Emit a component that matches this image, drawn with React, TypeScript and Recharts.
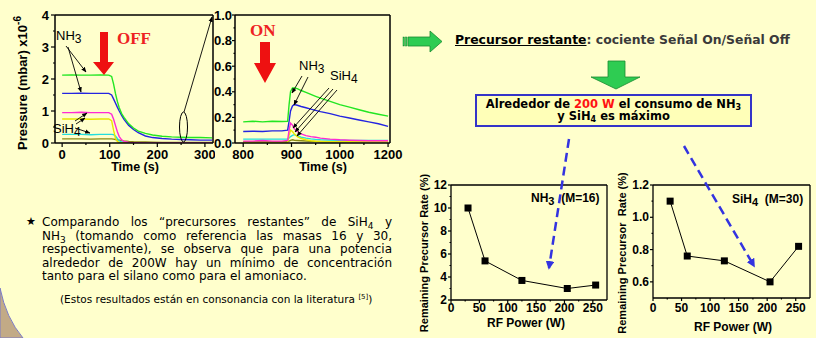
import React from "react";
import { LineChart, Line, XAxis, YAxis, ReferenceLine } from "recharts";

// plasma OFF transient, pressure x1e-6 mbar
const offTime = [0, 20, 40, 60, 80, 98, 104, 108, 112, 116, 120, 125, 130, 140, 150, 160, 175, 190, 210, 230, 250, 270, 290, 315];
const offGreen = [2.12, 2.13, 2.12, 2.12, 2.13, 2.12, 2.08, 1.85, 1.55, 1.3, 1.1, 0.92, 0.8, 0.6, 0.47, 0.37, 0.3, 0.25, 0.21, 0.19, 0.18, 0.17, 0.17, 0.16];
const offBlue = [1.55, 1.55, 1.56, 1.55, 1.55, 1.55, 1.5, 1.38, 1.25, 1.12, 1.0, 0.86, 0.74, 0.55, 0.42, 0.32, 0.22, 0.17, 0.14, 0.12, 0.11, 0.1, 0.09, 0.09];
const offMagenta = [0.95, 0.95, 0.96, 0.95, 0.95, 0.95, 0.9, 0.75, 0.55, 0.35, 0.2, 0.1, 0.05, 0.02, 0.01, 0.01, 0.005, 0.005, 0.005, 0.005, 0.005, 0.005, 0.005, 0.005];
const offYellow = [0.75, 0.75, 0.75, 0.74, 0.75, 0.75, 0.7, 0.4, 0.15, 0.05, 0.02, 0.01, 0.01, 0.005, 0.005, 0.005, 0.005, 0.005, 0.005, 0.005, 0.005, 0.005, 0.005, 0.005];
const offCyan = [0.27, 0.27, 0.27, 0.26, 0.27, 0.27, 0.27, 0.26, 0.22, 0.14, 0.07, 0.03, 0.015, 0.01, 0.005, 0.005, 0.005, 0.005, 0.005, 0.005, 0.005, 0.005, 0.005, 0.005];
const offOlive = [0.13, 0.13, 0.13, 0.12, 0.13, 0.13, 0.13, 0.12, 0.11, 0.1, 0.09, 0.075, 0.065, 0.05, 0.04, 0.035, 0.03, 0.025, 0.02, 0.02, 0.02, 0.015, 0.015, 0.015];

// plasma ON transient
const onTime = [800, 820, 840, 860, 880, 892, 895, 898, 902, 906, 912, 920, 930, 940, 950, 960, 980, 1000, 1020, 1040, 1060, 1080, 1100];
const onGreen = [0.165, 0.17, 0.165, 0.17, 0.168, 0.17, 0.3, 0.4, 0.43, 0.43, 0.425, 0.41, 0.395, 0.38, 0.365, 0.35, 0.325, 0.3, 0.28, 0.26, 0.24, 0.225, 0.21];
const onBlue = [0.09, 0.092, 0.09, 0.095, 0.095, 0.1, 0.17, 0.25, 0.29, 0.3, 0.295, 0.285, 0.275, 0.265, 0.255, 0.245, 0.23, 0.21, 0.195, 0.18, 0.165, 0.15, 0.13];
const onMagenta = [0.015, 0.015, 0.02, 0.015, 0.015, 0.02, 0.1, 0.155, 0.14, 0.11, 0.09, 0.072, 0.058, 0.05, 0.045, 0.038, 0.03, 0.025, 0.022, 0.02, 0.018, 0.018, 0.018];
const onYellow = [0.005, 0.005, 0.005, 0.005, 0.005, 0.005, 0.06, 0.1, 0.09, 0.07, 0.05, 0.035, 0.025, 0.018, 0.014, 0.012, 0.01, 0.01, 0.01, 0.01, 0.01, 0.01, 0.01];
const onCyan = [0.03, 0.03, 0.03, 0.03, 0.03, 0.03, 0.04, 0.05, 0.06, 0.065, 0.055, 0.045, 0.038, 0.032, 0.028, 0.026, 0.024, 0.022, 0.02, 0.02, 0.02, 0.02, 0.02];
const onOlive = [0.01, 0.01, 0.01, 0.01, 0.01, 0.01, 0.015, 0.02, 0.025, 0.022, 0.02, 0.018, 0.016, 0.014, 0.013, 0.012, 0.012, 0.012, 0.012, 0.012, 0.012, 0.012, 0.012];

// remaining precursor vs RF power
const powerW = [30, 60, 125, 205, 255];
const nh3Rate = [10, 5.4, 3.7, 3.0, 3.3];
const sih4Rate = [1.1, 0.76, 0.73, 0.6, 0.82];

// ticks
const offXMajor = [0, 100, 200, 300];
const offXMinor = [50, 150, 250];
const offYMajor = [0, 1, 2, 3, 4];
const offYMinor = [0.5, 1.5, 2.5, 3.5];
const onXMajor = [800, 900, 1000, 1100];
const onXLabels = ["800", "900", "1000", "1200"];
const onXMinor = [850, 950, 1050];
const onYMajor = [0, 0.2, 0.4, 0.6, 0.8, 1.0];
const onYMinor = [0.1, 0.3, 0.5, 0.7, 0.9];
const powerXMajor = [0, 50, 100, 150, 200, 250];
const powerXMinor = [25, 75, 125, 175, 225];
const nh3YMajor = [2, 4, 6, 8, 10, 12];
const nh3YMinor = [3, 5, 7, 9, 11];
const sih4YMajor = [0.6, 0.8, 1.0, 1.2];
const sih4YMinor = [0.7, 0.9, 1.1];

const seriesKeys = ["olive", "cyan", "yellow", "magenta", "blue", "green"];
const seriesColors: Record<string, string> = {
  green: "#22e622",
  blue: "#2424e0",
  magenta: "#ff2ad4",
  yellow: "#e8e800",
  cyan: "#22dede",
  olive: "#8a8a12",
};

const offRows = offTime.map((t, i) => ({
  t, green: offGreen[i], blue: offBlue[i], magenta: offMagenta[i],
  yellow: offYellow[i], cyan: offCyan[i], olive: offOlive[i],
}));
const onRows = onTime.map((t, i) => ({
  t, green: onGreen[i], blue: onBlue[i], magenta: onMagenta[i],
  yellow: onYellow[i], cyan: onCyan[i], olive: onOlive[i],
}));
const nh3Rows = powerW.map((p, i) => ({ p, v: nh3Rate[i] }));
const sih4Rows = powerW.map((p, i) => ({ p, v: sih4Rate[i] }));

const BG = "#ffffcc";
const arial = "'Liberation Sans', Arial, sans-serif";
const comic = "'Comic Sans MS', 'DejaVu Sans', sans-serif";

type TickOpts = {
  side: "left" | "bottom";
  majors: number[];
  size: number;
  margin: number;
  fontSize: number;
  label?: (v: number) => string;
};

function makeTick({ side, majors, size, margin, fontSize, label = (v) => String(v) }: TickOpts) {
  return (props: any) => {
    const { x, y, payload } = props;
    const v = Number(payload.value);
    const major = majors.some((m) => Math.abs(m - v) < 1e-6);
    const len = major ? size : size / 2;
    if (side === "left") {
      const ax = x + size + margin;
      return (
        <g>
          <line x1={ax} x2={ax - len} y1={y} y2={y} stroke="#000" strokeWidth={1.2} />
          {major && (
            <text x={x} y={y} dy="0.35em" textAnchor="end" fontSize={fontSize} fontWeight="bold" fontFamily={arial} fill="#000">
              {label(v)}
            </text>
          )}
        </g>
      );
    }
    const ay = y - size - margin;
    return (
      <g>
        <line x1={x} x2={x} y1={ay} y2={ay + len} stroke="#000" strokeWidth={1.2} />
        {major && (
          <text x={x} y={y} dy="0.71em" textAnchor="middle" fontSize={fontSize} fontWeight="bold" fontFamily={arial} fill="#000">
            {label(v)}
          </text>
        )}
      </g>
    );
  };
}

const sortTicks = (a: number[], b: number[]) => [...a, ...b].sort((p, q) => p - q);

function TransientChart(props: {
  rows: any[];
  left: number;
  width: number;
  plotWidth: number;
  yWidth: number;
  xDomain: [number, number];
  xMajor: number[];
  xMinor: number[];
  xLabel?: (v: number) => string;
  yDomain: [number, number];
  yMajor: number[];
  yMinor: number[];
  yLabel?: (v: number) => string;
  ySize: number;
  yMargin: number;
}) {
  const { rows, left, width, plotWidth, yWidth, xDomain, xMajor, xMinor, xLabel, yDomain, yMajor, yMinor, yLabel, ySize, yMargin } = props;
  return (
    <div style={{ position: "absolute", left, top: 0 }}>
      <LineChart width={width} height={178} data={rows} margin={{ top: 15, right: width - yWidth - plotWidth, left: 0, bottom: 0 }}>
        <XAxis
          dataKey="t"
          type="number"
          domain={xDomain}
          ticks={sortTicks(xMajor, xMinor)}
          interval={0}
          allowDataOverflow
          height={35}
          tickSize={4}
          tickMargin={3}
          tickLine={false}
          axisLine={{ stroke: "#000", strokeWidth: 1.5 }}
          tick={makeTick({ side: "bottom", majors: xMajor, size: 4, margin: 3, fontSize: 13, label: xLabel })}
        />
        <YAxis
          type="number"
          domain={yDomain}
          ticks={sortTicks(yMajor, yMinor)}
          interval={0}
          allowDataOverflow
          width={yWidth}
          tickSize={ySize}
          tickMargin={yMargin}
          tickLine={false}
          axisLine={{ stroke: "#000", strokeWidth: 1.5 }}
          tick={makeTick({ side: "left", majors: yMajor, size: ySize, margin: yMargin, fontSize: 13, label: yLabel })}
        />
        <ReferenceLine y={yDomain[1]} stroke="#000" strokeWidth={1.5} />
        <ReferenceLine x={xDomain[1]} stroke="#000" strokeWidth={1.5} />
        {seriesKeys.map((k) => (
          <Line key={k} type="linear" dataKey={k} stroke={seriesColors[k]} strokeWidth={1.4} dot={false} isAnimationActive={false} />
        ))}
      </LineChart>
    </div>
  );
}

function PowerChart(props: {
  rows: any[];
  left: number;
  width: number;
  yWidth: number;
  xHeight: number;
  yDomain: [number, number];
  yMajor: number[];
  yMinor: number[];
  yLabel?: (v: number) => string;
  xMargin: number;
}) {
  const { rows, left, width, yWidth, xHeight, yDomain, yMajor, yMinor, yLabel, xMargin } = props;
  const square = (p: any) => (
    <rect key={`sq-${p.index}`} x={p.cx - 3.5} y={p.cy - 3.5} width={7} height={7} fill="#000" />
  );
  return (
    <div style={{ position: "absolute", left, top: 170 }}>
      <LineChart width={width} height={168} data={rows} margin={{ top: 15, right: 2, left: 0, bottom: 0 }}>
        <XAxis
          dataKey="p"
          type="number"
          domain={[0, 275]}
          ticks={sortTicks(powerXMajor, powerXMinor)}
          interval={0}
          allowDataOverflow
          height={xHeight}
          tickSize={3}
          tickMargin={xMargin}
          tickLine={false}
          axisLine={{ stroke: "#000", strokeWidth: 1.3 }}
          tick={makeTick({ side: "bottom", majors: powerXMajor, size: 3, margin: xMargin, fontSize: 12 })}
        />
        <YAxis
          type="number"
          domain={yDomain}
          ticks={sortTicks(yMajor, yMinor)}
          interval={0}
          allowDataOverflow
          width={yWidth}
          tickSize={3}
          tickMargin={1}
          tickLine={false}
          axisLine={{ stroke: "#000", strokeWidth: 1.3 }}
          tick={makeTick({ side: "left", majors: yMajor, size: 3, margin: 1, fontSize: 12, label: yLabel })}
        />
        <ReferenceLine y={yDomain[1]} stroke="#000" strokeWidth={1.3} />
        <ReferenceLine x={275} stroke="#000" strokeWidth={1.3} />
        <Line type="linear" dataKey="v" stroke="#000" strokeWidth={1} dot={square} isAnimationActive={false} />
      </LineChart>
    </div>
  );
}

function Sub({ children, size = 9, drop = -3 }: { children: React.ReactNode; size?: number; drop?: number }) {
  return <span style={{ fontSize: size, verticalAlign: drop, lineHeight: 0 }}>{children}</span>;
}

const paraLines: React.ReactNode[] = [
  <>Comparando los “precursores restantes” de SiH<Sub>4</Sub> y</>,
  <>NH<Sub>3</Sub> (tomando como referencia las masas 16 y 30,</>,
  <>respectivamente), se observa que para una potencia</>,
  <>alrededor de 200W hay un mínimo de concentración</>,
  <>tanto para el silano como para el amoniaco.</>,
];

export default function App() {
  return (
    <div style={{ position: "absolute", left: 0, top: 0, width: 816, height: 338, background: BG, overflow: "hidden", fontFamily: comic }}>
      <svg width={816} height={338} style={{ position: "absolute", left: 0, top: 0 }}>
        <path d="M0,288 Q6,318 23,338 L0,338 Z" fill="#c2aa86" stroke="#7a7ac8" strokeWidth={1} />
      </svg>

      <TransientChart
        rows={offRows}
        left={0}
        width={215}
        plotWidth={158}
        yWidth={55}
        xDomain={[-15, 317]}
        xMajor={offXMajor}
        xMinor={offXMinor}
        yDomain={[0, 4]}
        yMajor={offYMajor}
        yMinor={offYMinor}
        ySize={4}
        yMargin={2}
      />
      <TransientChart
        rows={onRows}
        left={213}
        width={200}
        plotWidth={155}
        yWidth={22}
        xDomain={[783, 1104]}
        xMajor={onXMajor}
        xMinor={onXMinor}
        xLabel={(v) => onXLabels[onXMajor.indexOf(v)]}
        yDomain={[0, 1]}
        yMajor={onYMajor}
        yMinor={onYMinor}
        yLabel={(v) => v.toFixed(1)}
        ySize={3}
        yMargin={0}
      />
      <PowerChart
        rows={nh3Rows}
        left={395}
        width={214}
        yWidth={56}
        xHeight={38}
        yDomain={[2, 12]}
        yMajor={nh3YMajor}
        yMinor={nh3YMinor}
        xMargin={0}
      />
      <PowerChart
        rows={sih4Rows}
        left={600}
        width={212}
        yWidth={53}
        xHeight={40}
        yDomain={[0.5, 1.2]}
        yMajor={sih4YMajor}
        yMinor={sih4YMinor}
        yLabel={(v) => v.toFixed(1)}
        xMargin={2}
      />

      <svg width={816} height={338} style={{ position: "absolute", left: 0, top: 0, pointerEvents: "none" }}>
        <defs>
          <marker id="ah" viewBox="0 0 10 10" refX="9" refY="5" markerWidth="6" markerHeight="6" orient="auto">
            <path d="M0,1 L10,5 L0,9 Z" fill="#000" />
          </marker>
          <marker id="bh" viewBox="0 0 10 10" refX="8" refY="5" markerWidth="3.5" markerHeight="3.5" orient="auto">
            <path d="M0,0 L10,5 L0,10 Z" fill="#3333e0" />
          </marker>
        </defs>

        {/* axis titles */}
        <text x={22} y={83} transform="rotate(-90 22 83)" textAnchor="middle" dominantBaseline="central" fontFamily={arial} fontWeight="bold" fontSize={13}>
          Pressure (mbar) x10<tspan dy={-5} fontSize={10}>-6</tspan>
        </text>
        <text x={135} y={171} textAnchor="middle" fontFamily={arial} fontWeight="bold" fontSize={12.5}>Time (s)</text>
        <text x={323} y={171} textAnchor="middle" fontFamily={arial} fontWeight="bold" fontSize={12.5}>Time (s)</text>
        <text x={424} y={253} transform="rotate(-90 424 253)" textAnchor="middle" dominantBaseline="central" fontFamily={arial} fontWeight="bold" fontSize={11}>
          Remaining Precursor Rate (%)
        </text>
        <text x={622} y={253} transform="rotate(-90 622 253)" textAnchor="middle" dominantBaseline="central" fontFamily={arial} fontWeight="bold" fontSize={11} style={{ whiteSpace: "pre" }}>
          Remaining Precursor  Rate (%)
        </text>
        <text x={526} y={327} textAnchor="middle" fontFamily={arial} fontWeight="bold" fontSize={12}>RF Power (W)</text>
        <text x={733} y={331} textAnchor="middle" fontFamily={arial} fontWeight="bold" fontSize={12}>RF Power (W)</text>

        {/* OFF chart notes */}
        <polygon points="100,32 108,32 108,62 114,62 104,75 93,62 100,62" fill="#ee1111" />
        <text x={117} y={44} fontFamily="'Liberation Serif', serif" fontWeight="bold" fontSize={17} fill="#ee2222">OFF</text>
        <text x={56} y={40} fontFamily={arial} fontSize={13}>NH<tspan dy={3} fontSize={12}>3</tspan></text>
        <line x1={66} y1={46} x2={86} y2={72} stroke="#000" strokeWidth={0.9} markerEnd="url(#ah)" />
        <line x1={68} y1={47} x2={81} y2={92} stroke="#000" strokeWidth={0.9} markerEnd="url(#ah)" />
        <text x={53} y={133} fontFamily={arial} fontSize={13}>SiH<tspan dy={3} fontSize={12}>4</tspan></text>
        <line x1={75} y1={121} x2={87} y2={113} stroke="#000" strokeWidth={0.9} markerEnd="url(#ah)" />
        <line x1={76} y1={124} x2={85} y2={118} stroke="#000" strokeWidth={0.9} markerEnd="url(#ah)" />
        <line x1={75} y1={128} x2={90} y2={133} stroke="#000" strokeWidth={0.9} markerEnd="url(#ah)" />
        <ellipse cx={183.5} cy={127} rx={4} ry={15} fill="none" stroke="#000" strokeWidth={1} />
        <line x1={184} y1={112} x2={212} y2={17} stroke="#000" strokeWidth={0.9} markerEnd="url(#ah)" />

        {/* ON chart notes */}
        <polygon points="260,42 270,42 270,63 276,63 265,83 254,63 260,63" fill="#ee1111" />
        <text x={250} y={36} fontFamily="'Liberation Serif', serif" fontWeight="bold" fontSize={17} fill="#ee2222">ON</text>
        <text x={299} y={70} fontFamily={arial} fontSize={13}>NH<tspan dy={3} fontSize={12}>3</tspan></text>
        <text x={330} y={80} fontFamily={arial} fontSize={13}>SiH<tspan dy={3} fontSize={12}>4</tspan></text>
        <line x1={302} y1={76} x2={292} y2={93} stroke="#000" strokeWidth={0.9} markerEnd="url(#ah)" />
        <line x1={308} y1={77} x2={294} y2={105} stroke="#000" strokeWidth={0.9} markerEnd="url(#ah)" />
        <line x1={329} y1={88} x2={293} y2={128} stroke="#000" strokeWidth={0.9} markerEnd="url(#ah)" />
        <line x1={333} y1={89} x2={295} y2={132} stroke="#000" strokeWidth={0.9} markerEnd="url(#ah)" />
        <line x1={337} y1={90} x2={297} y2={136} stroke="#000" strokeWidth={0.9} markerEnd="url(#ah)" />

        {/* green arrows */}
        <rect x={403} y={37} width={1.5} height={9} fill="#2ecc52" stroke="#1a8a30" strokeWidth={0.5} />
        <rect x={405.5} y={37} width={1.5} height={9} fill="#2ecc52" stroke="#1a8a30" strokeWidth={0.5} />
        <polygon points="408,37 430,37 430,31 442,41.5 430,52 430,46 408,46" fill="#2ecc52" stroke="#1a8a30" strokeWidth={0.8} />
        <polygon points="608,61 625,61 625,77 640,77 616,89 591,77 608,77" fill="#2ecc52" stroke="#1a8a30" strokeWidth={0.8} />

        {/* blue dashed pointers */}
        <line x1={569} y1={139} x2={549} y2={268} stroke="#3333e0" strokeWidth={2.5} strokeDasharray="9 5" markerEnd="url(#bh)" />
        <line x1={684} y1={146} x2={754} y2={266} stroke="#3333e0" strokeWidth={2.5} strokeDasharray="9 5" markerEnd="url(#bh)" />

        {/* in-plot labels of power charts */}
        <text x={531} y={202} fontFamily={arial} fontWeight="bold" fontSize={12} style={{ whiteSpace: "pre" }}>
          NH<tspan dy={3} fontSize={11}>3</tspan><tspan dy={-3}>  (M=16)</tspan>
        </text>
        <text x={732} y={203} fontFamily={arial} fontWeight="bold" fontSize={12} style={{ whiteSpace: "pre" }}>
          SiH<tspan dy={3} fontSize={11}>4</tspan><tspan dy={-3}>  (M=30)</tspan>
        </text>
      </svg>

      <div style={{ position: "absolute", left: 455, top: 32, fontSize: 12.4, fontWeight: "bold", whiteSpace: "nowrap", color: "#3a3a3a" }}>
        <span style={{ color: "#000", textDecoration: "underline" }}>Precursor restante</span>: cociente Señal On/Señal Off
      </div>

      <div
        style={{
          position: "absolute", left: 475, top: 94, width: 277, height: 33, boxSizing: "border-box",
          border: "2px solid #3434c8", background: "#ffffb8", fontSize: 11.5, fontWeight: "bold",
          textAlign: "center", lineHeight: "12px", paddingTop: 2, color: "#000",
        }}
      >
        Alrededor de <span style={{ color: "#ff1111" }}>200 W</span> el consumo de NH<Sub size={8} drop={-2}>3</Sub>
        <br />y SiH<Sub size={8} drop={-2}>4</Sub> es máximo
      </div>

      <div style={{ position: "absolute", left: 26, top: 215, fontSize: 11 }}>★</div>
      {paraLines.map((ln, i) => (
        <div
          key={i}
          style={{
            position: "absolute", left: 42, top: 215 + i * 13.5, width: 350, fontSize: 12, lineHeight: "14px",
            whiteSpace: "nowrap", textAlign: "justify", textAlignLast: i < paraLines.length - 1 ? "justify" : "left",
            color: "#000",
          }}
        >
          {ln}
        </div>
      ))}
      <div style={{ position: "absolute", left: 60, top: 293, width: 308, fontSize: 10.5, textAlign: "center", whiteSpace: "nowrap" }}>
        (Estos resultados están en consonancia con la literatura <span style={{ fontSize: 7, verticalAlign: 4 }}>[5]</span>)
      </div>
    </div>
  );
}
